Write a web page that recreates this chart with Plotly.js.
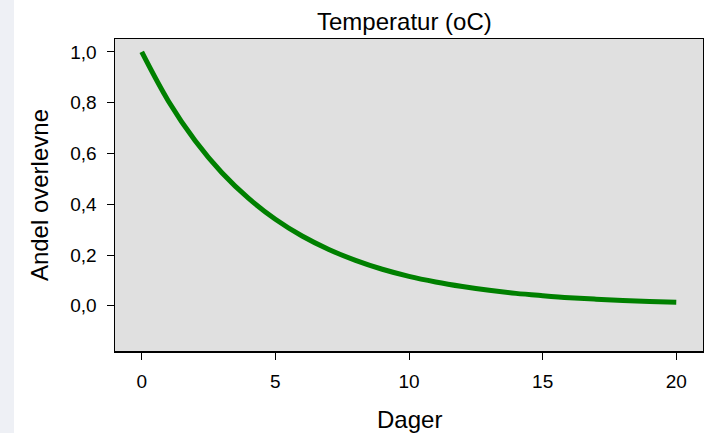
<!DOCTYPE html>
<html>
<head>
<meta charset="utf-8">
<script src="https://cdn.plot.ly/plotly-3.0.1.min.js"></script>
<style>html,body{margin:0;padding:0;background:#fff}#chart{width:704px;height:433px}</style>
</head>
<body>
<div id="chart"></div>
<script>
const days = [0,1,2,3,4,5,6,7,8,9,10,11,12,13,14,15,16,17,18,19,20];
const survival = [1.000,0.806,0.650,0.524,0.423,0.341,0.275,0.222,0.179,0.144,0.116,0.094,0.076,0.061,0.049,0.040,0.032,0.026,0.021,0.017,0.014];
const xTicks = [0,5,10,15,20];
const yTicks = [0,0.2,0.4,0.6,0.8,1.0];
const yTickLabels = ["0,0","0,2","0,4","0,6","0,8","1,0"];
const chartTitle = "Temperatur (oC)";
const xTitle = "Dager";
const yTitle = "Andel overlevne";

const fam = "Liberation Sans, Arial, sans-serif";
const tickFont = {family: fam, size: 19, color: "#000"};
const titleFont = {family: fam, size: 24, color: "#000"};

Plotly.newPlot("chart", [{
  x: days, y: survival, type: "scatter", mode: "lines",
  line: {color: "#008000", width: 5, shape: "spline", smoothing: 1},
  hoverinfo: "skip"
}], {
  width: 704, height: 433,
  margin: {l: 115, r: 1, t: 39, b: 82},
  paper_bgcolor: "#ffffff",
  plot_bgcolor: "#e0e0e0",
  showlegend: false,
  font: tickFont,
  xaxis: {
    range: [-1, 21], tickvals: xTicks, ticktext: xTicks.map(String),
    ticks: "outside", ticklen: 7, tickwidth: 1, tickcolor: "#000",
    ticklabelstandoff: 6,
    showgrid: false, zeroline: false,
    showline: true, linecolor: "#000", linewidth: 1.5, mirror: true,
    tickfont: tickFont
  },
  yaxis: {
    range: [-0.178, 1.051], tickvals: yTicks, ticktext: yTickLabels,
    ticks: "outside", ticklen: 7, tickwidth: 1, tickcolor: "#000",
    ticklabelstandoff: 6,
    showgrid: false, zeroline: false,
    showline: true, linecolor: "#000", linewidth: 1.5, mirror: true,
    tickfont: tickFont
  },
  annotations: [
    {text: chartTitle, xref: "paper", yref: "paper", x: 0.493, y: 1.0545, xanchor: "center", yanchor: "middle", showarrow: false, font: titleFont},
    {text: xTitle, xref: "paper", yref: "paper", x: 0.50, y: -0.221, xanchor: "center", yanchor: "middle", showarrow: false, font: titleFont},
    {text: yTitle, xref: "paper", yref: "paper", x: -0.1284, y: 0.498, xanchor: "center", yanchor: "middle", textangle: -90, showarrow: false, font: titleFont}
  ],
  shapes: [{
    type: "rect", xref: "paper", yref: "paper", layer: "below",
    x0: -115/588, x1: -101/588, y0: -82/312, y1: 351/312,
    fillcolor: "#eef0f5", line: {width: 0}
  }]
}, {displayModeBar: false, staticPlot: true});
</script>
</body>
</html>
